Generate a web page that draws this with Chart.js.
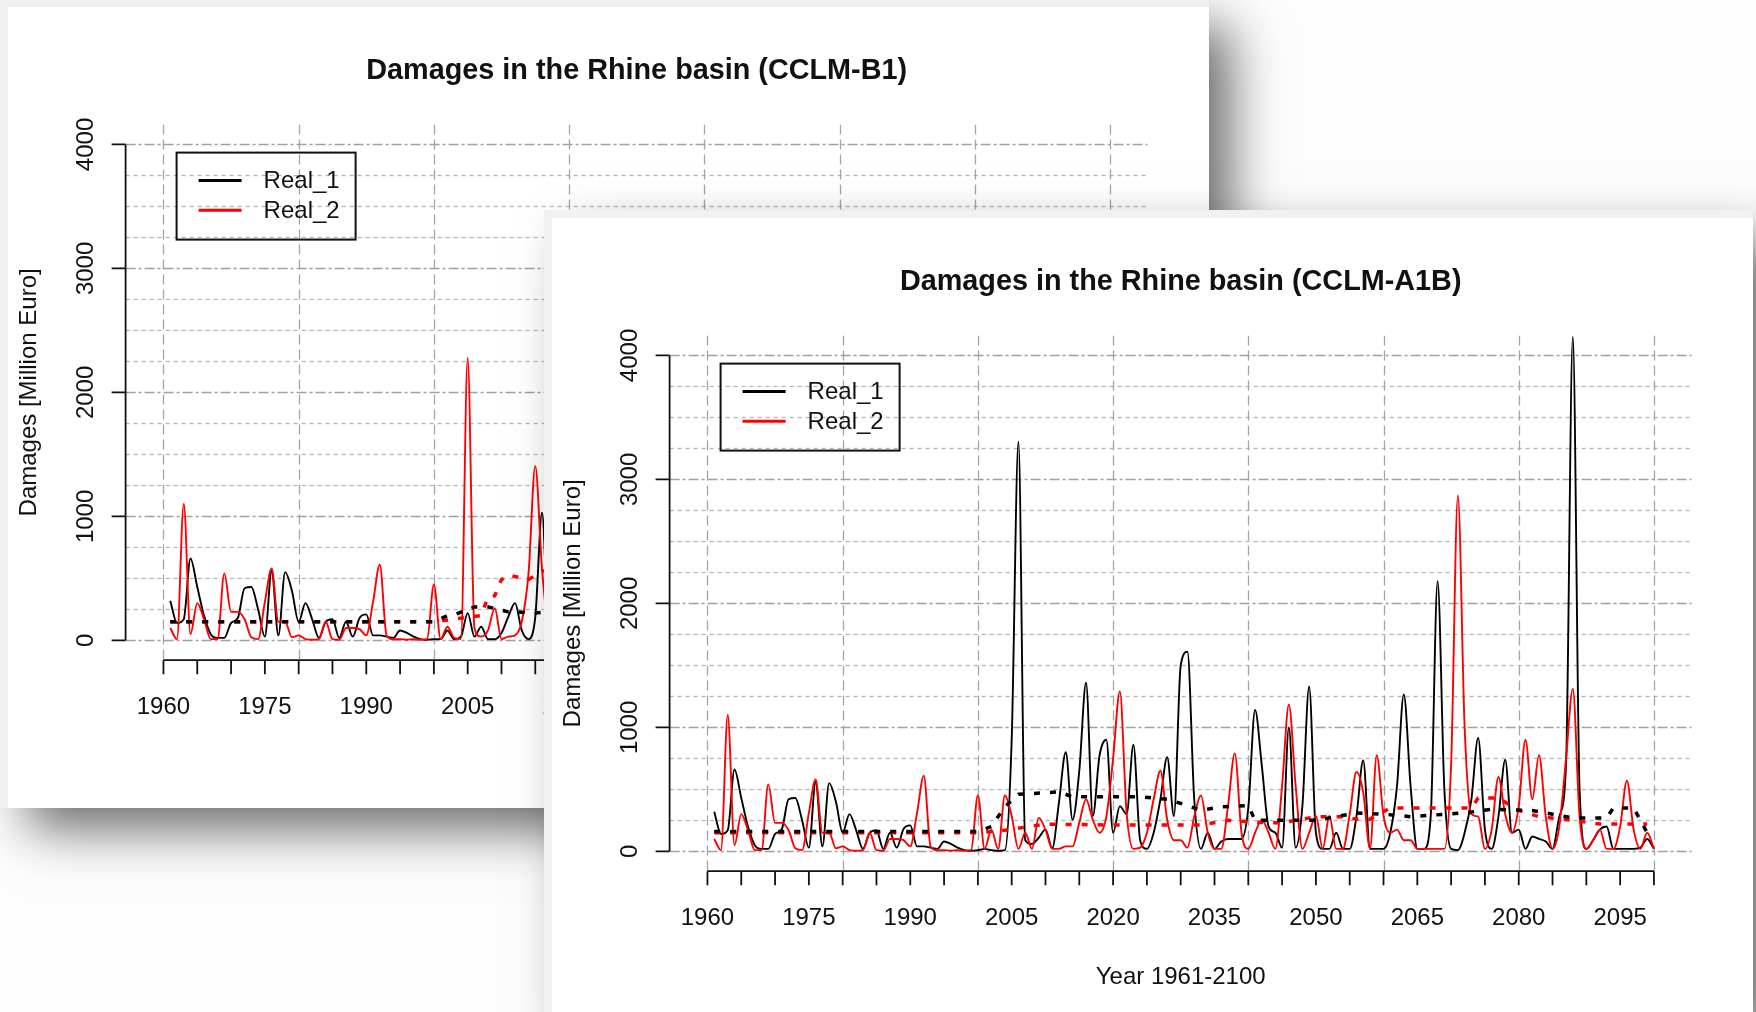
<!DOCTYPE html>
<html>
<head>
<meta charset="utf-8">
<title>Damages in the Rhine basin</title>
<script src="https://cdn.jsdelivr.net/npm/chart.js@4.4.1/dist/chart.umd.min.js"></script>
<style>
  html, body { margin: 0; padding: 0; width: 1756px; height: 1012px; overflow: hidden; background: #fdfdfd; }
  .win { position: absolute; width: 1201px; height: 801px; background: #ffffff; }
  #w1 { left: 8px; top: 7px; box-shadow: -4px -4px 0 4px #efefef, 20px 20px 50px rgba(0,0,0,0.6); }
  #w2 { left: 552px; top: 218px; box-shadow: -4px -4px 0 4px #f1f1f1, 20px 20px 50px rgba(0,0,0,0.6); }
  canvas { display: block; }
</style>
</head>
<body>
<div class="win" id="w1"><canvas id="c1" width="1201" height="801"></canvas></div>
<div class="win" id="w2"><canvas id="c2" width="1201" height="801"></canvas></div>
<script>
// ---- data: annual damages, million euro ----
const CTRL_START = 1961;   // control period 1961-2000 (shared by both scenarios)
const SCEN_START = 2001;   // scenario period

const ctrlReal1 = [320,140,170,660,430,200,50,20,20,140,180,420,430,250,30,560,40,550,400,150,
                   300,170,20,150,170,20,150,30,180,210,40,40,30,20,80,60,30,10,5,10];
const ctrlReal2 = [100,10,1100,50,300,170,10,10,540,230,230,170,25,10,310,580,150,150,25,40,
                   10,5,10,150,10,5,100,100,90,40,310,610,40,10,10,5,10,5,10,450];

const a1bReal1 = [20,10,5,10,900,3306,90,60,110,175,
                  25,400,800,255,650,1360,285,775,900,150,
                  365,300,860,90,20,150,420,760,285,1500,
                  1610,420,20,150,20,80,100,100,100,350,
                  1140,690,200,150,30,1000,30,365,1330,150,
                  20,20,150,20,20,285,735,20,20,20,
                  150,530,1265,530,20,20,300,2180,500,20,
                  10,150,420,915,175,20,280,740,150,175,
                  20,120,100,80,20,280,700,4150,500,20,
                  90,175,200,20,20,20,20,30,100,20];
const a1bReal2 = [20,175,20,450,285,20,150,20,270,175,
                  20,20,40,40,230,420,255,150,280,750,
                  1290,310,20,30,150,420,650,255,90,90,
                  30,280,450,150,20,20,365,790,150,20,
                  150,255,150,20,530,1185,530,20,150,285,
                  20,285,20,20,300,640,475,20,775,285,
                  150,175,90,90,20,20,20,20,20,700,
                  2870,1000,300,280,20,175,600,300,150,365,
                  900,420,775,280,20,200,750,1310,280,20,
                  90,175,20,20,200,570,175,20,150,20];

const b1Real1 = [10,80,10,30,220,30,110,10,10,60,190,300,80,10,190,1030,100,300];
const b1Real2 = [10,110,20,10,2280,100,30,80,260,10,30,40,150,540,1405,570,100,60];

// running means (dotted lines): years and values
const a1bMeanYears1 = [1961,2000,2002,2004,2006,2012,2014,2024,2028,2031,2033,2036,2040,2041,2050,2056,2060,2064,2072,2076,2082,2085,2088,2093,2094,2097,2099];
const a1bMean1      = [ 160, 160, 200, 360, 460, 480, 440, 440, 420, 370, 330, 360, 370, 250, 250, 310, 300, 280, 310, 340, 330, 300, 270, 270, 350, 350, 150];
const a1bMeanYears2 = [1961,2000,2004,2010,2020,2033,2037,2043,2045,2050,2054,2056,2058,2061,2073,2074,2077,2080,2083,2088,2092,2099];
const a1bMean2      = [ 150, 150, 170, 220, 212, 212, 250, 230, 230, 280, 280, 260, 260, 350, 350, 430, 430, 330, 280, 250, 220, 220];
const b1MeanYears1  = [1961,2000,2002,2003,2006,2008,2011,2012,2015,2018];
const b1Mean1       = [ 150, 150, 200, 205, 270, 270, 230, 230, 220, 240];
const b1MeanYears2  = [1961,2000,2007,2008,2009,2010,2011,2014,2016,2018];
const b1Mean2       = [ 150, 150, 200, 350, 360, 490, 527, 490, 560, 560];

// axes
const yTickValues  = [0, 1000, 2000, 3000, 4000];
const yGridValues  = [0,250,500,750,1000,1250,1500,1750,2000,2250,2500,2750,3000,3250,3500,3750,4000];
const xTickYears   = [1960,1965,1970,1975,1980,1985,1990,1995,2000,2005,2010,2015,2020,2025,2030,
                      2035,2040,2045,2050,2055,2060,2065,2070,2075,2080,2085,2090,2095,2100];
const xLabelYears  = [1960,1975,1990,2005,2020,2035,2050,2065,2080,2095];
const xGridYears   = [1960,1980,2000,2020,2040,2060,2080,2100];
const seriesNames  = ['Real_1', 'Real_2'];
const seriesColors = ['#000000', '#ff0000'];

// ---- helpers ----
const FONT = '"Liberation Sans", Arial, Helvetica, sans-serif';

function points(start, values) {
  return values.map((v, i) => ({ x: start + i, y: v }));
}
function pairs(xs, ys) {
  return xs.map((x, i) => ({ x: x, y: ys[i] }));
}

// R-style frame: grid, offset axes, rotated y labels, boxed legend, titles
const rFrame = {
  id: 'rFrame',
  beforeDatasetsDraw(chart) {
    const { ctx, chartArea: a, scales: { x, y } } = chart;
    ctx.save();
    ctx.beginPath();
    ctx.rect(a.left, a.top, a.right - a.left, a.bottom - a.top);
    ctx.clip();
    ctx.lineWidth = 1.3;
    for (const v of yGridValues) {
      const py = Math.round(y.getPixelForValue(v)) + 0.5;
      const major = v % 1000 === 0;
      ctx.strokeStyle = major ? '#a0a0a0' : '#b4b4b4';
      ctx.setLineDash(major ? [10, 3, 3, 3] : [4, 4]);
      ctx.beginPath(); ctx.moveTo(a.left, py); ctx.lineTo(a.right, py); ctx.stroke();
    }
    ctx.strokeStyle = '#a4a4a4';
    ctx.setLineDash([10, 5]);
    for (const yr of xGridYears) {
      const px = Math.round(x.getPixelForValue(yr)) + 0.5;
      ctx.beginPath(); ctx.moveTo(px, a.top); ctx.lineTo(px, a.bottom); ctx.stroke();
    }
    ctx.restore();
  },
  afterDatasetsDraw(chart, args, opts) {
    const { ctx, chartArea: a, scales: { x, y } } = chart;
    const tick = 14;
    ctx.save();
    ctx.strokeStyle = '#111';
    ctx.fillStyle = '#111';
    ctx.lineWidth = 1.8;
    ctx.setLineDash([]);

    // y axis
    const ax = a.left;
    ctx.beginPath();
    ctx.moveTo(ax, y.getPixelForValue(yTickValues[0]));
    ctx.lineTo(ax, y.getPixelForValue(yTickValues[yTickValues.length - 1]));
    for (const v of yTickValues) {
      const py = y.getPixelForValue(v);
      ctx.moveTo(ax, py); ctx.lineTo(ax - tick, py);
    }
    ctx.stroke();
    ctx.font = '24px ' + FONT;
    ctx.textAlign = 'center';
    ctx.textBaseline = 'middle';
    for (const v of yTickValues) {
      ctx.save();
      ctx.translate(ax - 39, y.getPixelForValue(v));
      ctx.rotate(-Math.PI / 2);
      ctx.fillText(String(v), 0, 0);
      ctx.restore();
    }

    // x axis
    const ay = a.bottom;
    ctx.beginPath();
    ctx.moveTo(x.getPixelForValue(xTickYears[0]), ay);
    ctx.lineTo(x.getPixelForValue(xTickYears[xTickYears.length - 1]), ay);
    for (const yr of xTickYears) {
      const px = x.getPixelForValue(yr);
      ctx.moveTo(px, ay); ctx.lineTo(px, ay + tick);
    }
    ctx.stroke();
    for (const yr of xLabelYears) {
      ctx.fillText(String(yr), x.getPixelForValue(yr), ay + 47);
    }

    // titles
    const cx = (a.left + a.right) / 2;
    ctx.fillText(opts.xTitle, cx, ay + 106);
    ctx.save();
    ctx.translate(21, (a.top + a.bottom) / 2);
    ctx.rotate(-Math.PI / 2);
    ctx.fillText(opts.yTitle, 0, 0);
    ctx.restore();
    ctx.font = 'bold 28.8px ' + FONT;
    ctx.fillText(opts.title, cx, 64);

    // legend
    const lx = a.left + 51, ly = a.top + 28, lw = 179, lh = 87;
    ctx.lineWidth = 2;
    ctx.strokeStyle = '#111';
    ctx.strokeRect(lx, ly, lw, lh);
    ctx.font = '24px ' + FONT;
    ctx.textAlign = 'left';
    seriesNames.forEach((name, i) => {
      const ry = ly + 28 + i * 29.6;
      ctx.strokeStyle = seriesColors[i];
      ctx.lineWidth = 3;
      ctx.beginPath(); ctx.moveTo(lx + 22, ry); ctx.lineTo(lx + 65, ry); ctx.stroke();
      ctx.fillStyle = '#111';
      ctx.fillText(name, lx + 87, ry + 1);
    });
    ctx.restore();
  }
};

function makeChart(id, title, real1, real2, mean1, mean2) {
  const line = (data, color, width, dash, order, smooth) => ({
    data, borderColor: color, borderWidth: width, borderDash: dash,
    pointRadius: 0, fill: false, order, borderCapStyle: 'butt', borderJoinStyle: 'round',
    cubicInterpolationMode: smooth ? 'monotone' : 'default', tension: 0
  });
  return new Chart(document.getElementById(id), {
    type: 'line',
    data: {
      datasets: [
        line(mean1, '#000000', 3.5, [6, 10], 0, false),
        line(mean2, '#ff0000', 3.5, [6, 10], 1, false),
        line(real2, '#ff0000', 1.9, [], 2, true),
        line(real1, '#000000', 1.9, [], 3, true)
      ]
    },
    options: {
      responsive: false,
      animation: false,
      devicePixelRatio: 1,
      layout: { padding: { left: 117.6, right: 61.2, top: 117.6, bottom: 147.8 } },
      scales: {
        x: { type: 'linear', display: false, min: 1954.4, max: 2105.6 },
        y: { type: 'linear', display: false, min: -160, max: 4160 }
      },
      plugins: {
        legend: { display: false },
        tooltip: { enabled: false },
        rFrame: { title, xTitle: 'Year 1961-2100', yTitle: 'Damages [Million Euro]' }
      }
    },
    plugins: [rFrame]
  });
}

const ctrl1 = points(CTRL_START, ctrlReal1);
const ctrl2 = points(CTRL_START, ctrlReal2);

makeChart('c1', 'Damages in the Rhine basin (CCLM-B1)',
  ctrl1.concat(points(SCEN_START, b1Real1)),
  ctrl2.concat(points(SCEN_START, b1Real2)),
  pairs(b1MeanYears1, b1Mean1), pairs(b1MeanYears2, b1Mean2));

makeChart('c2', 'Damages in the Rhine basin (CCLM-A1B)',
  ctrl1.concat(points(SCEN_START, a1bReal1)),
  ctrl2.concat(points(SCEN_START, a1bReal2)),
  pairs(a1bMeanYears1, a1bMean1), pairs(a1bMeanYears2, a1bMean2));
</script>
</body>
</html>
